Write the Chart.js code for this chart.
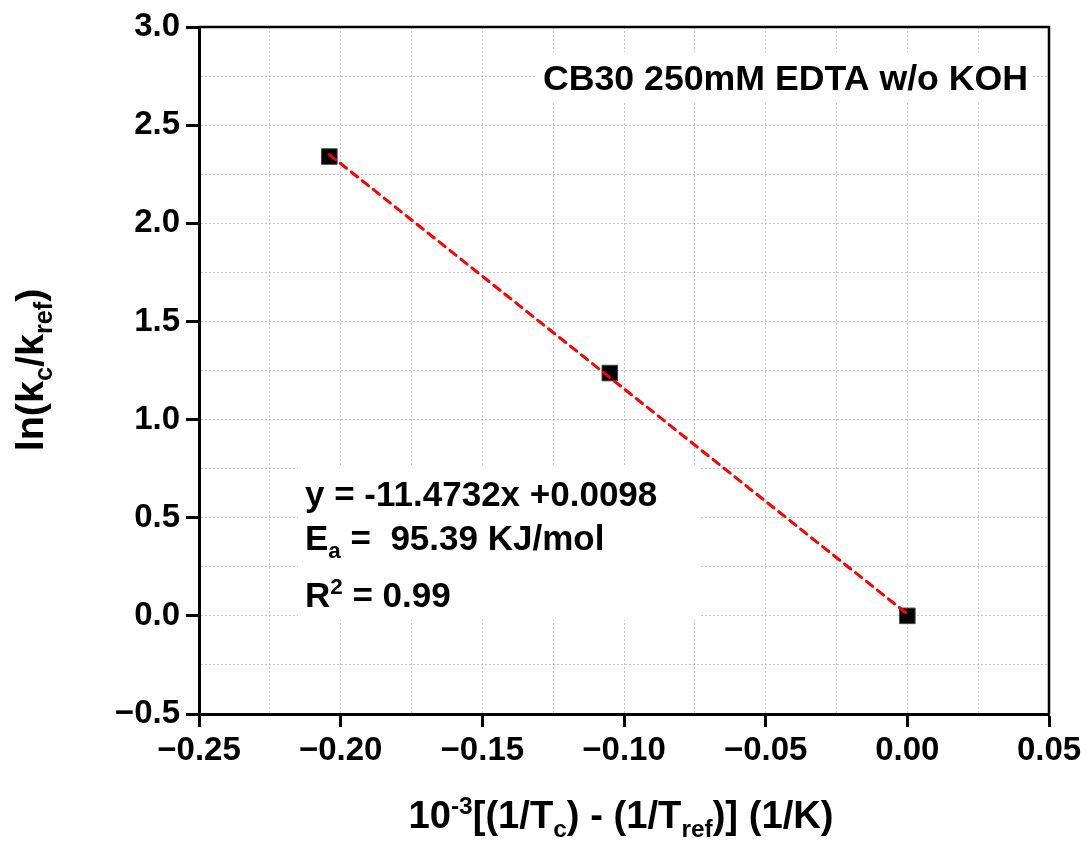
<!DOCTYPE html>
<html>
<head>
<meta charset="utf-8">
<script src="https://cdn.jsdelivr.net/npm/chart.js@4.4.0/dist/chart.umd.min.js"></script>
<style>
  html, body { margin: 0; padding: 0; background: #fff; }
  canvas { display: block; }
</style>
</head>
<body>
<canvas id="arrhenius" width="1090" height="848"></canvas>
<script>
// measured points
const xValues = [-0.204, -0.105, 0.0];
const yValues = [2.34, 1.237, 0.0];
// linear fit, drawn between the outer points
const fitX = [-0.204, 0.0];
const fitY = [2.35, 0.0098];

const xMin = -0.25, xMax = 0.05, xMajor = 0.05, xMinor = 0.025;
const yMin = -0.5, yMax = 3.0, yMajor = 0.5, yMinor = 0.25;

const chartTitle = 'CB30 250mM EDTA w/o KOH';
const fitLines = [
  [['y = -11.4732x +0.0098', null]],
  [['E', null], ['a', 'sub'], [' =  95.39 KJ/mol', null]],
  [['R', null], ['2', 'sup'], [' = 0.99', null]]
];
const xTitle = [['10', null], ['-3', 'sup'], ['[(1/T', null], ['c', 'sub'], [') - (1/T', null], ['ref', 'sub'], [')] (1/K)', null]];
const yTitle = [['ln(k', null], ['c', 'sub'], ['/k', null], ['ref', 'sub'], [')', null]];

const FAM = "'Liberation Sans', Arial, sans-serif";
Chart.defaults.font.family = FAM;
Chart.defaults.color = '#000';

const isMajor = (v, step) => Math.abs(v / step - Math.round(v / step)) < 1e-6;
const fmt = (v, d) => (Math.abs(v) < 1e-9 ? 0 : v).toFixed(d).replace('-', '\u2212');

function richText(ctx, parts, x, y, size, align) {
  let w = 0;
  const segs = parts.map(([t, m]) => {
    const fs = m ? size * 0.64 : size;
    ctx.font = `bold ${fs}px ${FAM}`;
    const sw = ctx.measureText(t).width;
    const dy = m === 'sub' ? size * 0.24 : m === 'sup' ? -size * 0.36 : 0;
    w += sw;
    return { t, fs, sw, dy };
  });
  let cx = align === 'center' ? x - w / 2 : x;
  ctx.textAlign = 'left';
  ctx.textBaseline = 'alphabetic';
  ctx.fillStyle = '#000';
  segs.forEach(s => {
    ctx.font = `bold ${s.fs}px ${FAM}`;
    ctx.fillText(s.t, cx, y + s.dy);
    cx += s.sw;
  });
}

const extras = {
  id: 'extras',
  beforeDatasetsDraw(chart) {
    const ctx = chart.ctx;
    ctx.save();
    ctx.fillStyle = '#fff';
    ctx.fillRect(537, 52, 496, 50);
    ctx.fillRect(298, 466, 402, 154);
    ctx.restore();
  },
  afterDraw(chart) {
    const { ctx, chartArea: a } = chart;
    ctx.save();
    // top and right frame
    ctx.strokeStyle = '#000';
    ctx.lineWidth = 2.5;
    ctx.beginPath();
    ctx.moveTo(a.left, a.top);
    ctx.lineTo(a.right, a.top);
    ctx.lineTo(a.right, a.bottom);
    ctx.stroke();

    richText(ctx, [[chartTitle, null]], 785.5, 90, 35.7, 'center');
    richText(ctx, fitLines[0], 305, 506, 35, 'left');
    richText(ctx, fitLines[1], 305, 550, 35, 'left');
    richText(ctx, fitLines[2], 305, 607, 35, 'left');

    richText(ctx, xTitle, 621, 828, 38.2, 'center');
    ctx.translate(43, 370);
    ctx.rotate(-Math.PI / 2);
    richText(ctx, yTitle, 0, 0, 39.5, 'center');
    ctx.restore();
  }
};

new Chart(document.getElementById('arrhenius'), {
  type: 'scatter',
  data: {
    datasets: [
      {
        label: 'fit',
        type: 'line',
        data: fitX.map((x, i) => ({ x, y: fitY[i] })),
        borderColor: '#ff0000',
        borderWidth: 3,
        borderDash: [8, 6],
        borderCapStyle: 'round',
        pointRadius: 0,
        fill: false,
        order: 0
      },
      {
        label: 'data',
        data: xValues.map((x, i) => ({ x, y: yValues[i] })),
        pointStyle: 'rect',
        pointRadius: 11,
        backgroundColor: '#000',
        borderColor: '#444',
        borderWidth: 1,
        order: 1
      }
    ]
  },
  options: {
    responsive: false,
    animation: false,
    devicePixelRatio: 1,
    layout: { padding: { left: 0, right: 41, top: 27, bottom: 0 } },
    plugins: { legend: { display: false }, tooltip: { enabled: false } },
    scales: {
      x: {
        type: 'linear',
        min: xMin, max: xMax,
        afterFit: s => { s.height = 134; },
        ticks: {
          stepSize: xMinor,
          autoSkip: false,
          maxRotation: 0,
          padding: 4,
          font: { size: 33, weight: 'bold' },
          callback: v => isMajor(v, xMajor) ? fmt(v, 2) : ''
        },
        grid: {
          color: '#c4c4c4',
          lineWidth: 1,
          tickLength: 13,
          tickWidth: 3,
          tickColor: c => (c.tick && isMajor(c.tick.value, xMajor)) ? '#000' : 'rgba(0,0,0,0)'
        },
        border: { color: '#000', width: 3, dash: [2, 2] }
      },
      y: {
        type: 'linear',
        min: yMin, max: yMax,
        afterFit: s => { s.width = 199; },
        ticks: {
          stepSize: yMinor,
          autoSkip: false,
          padding: 6,
          font: { size: 33, weight: 'bold' },
          callback: v => isMajor(v, yMajor) ? fmt(v, 1) : ''
        },
        grid: {
          color: '#c4c4c4',
          lineWidth: 1,
          tickLength: 13,
          tickWidth: 3,
          tickColor: c => (c.tick && isMajor(c.tick.value, yMajor)) ? '#000' : 'rgba(0,0,0,0)'
        },
        border: { color: '#000', width: 3, dash: [2, 2] }
      }
    }
  },
  plugins: [extras]
});
</script>
</body>
</html>
